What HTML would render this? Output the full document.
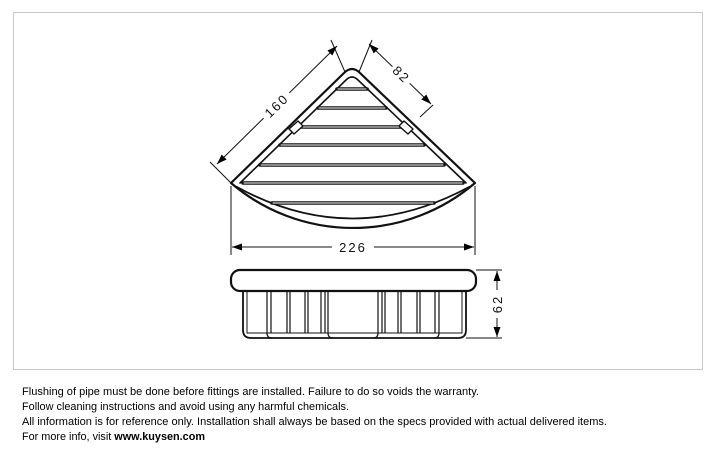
<!DOCTYPE html>
<html><head><meta charset="utf-8"><style>
html,body{margin:0;padding:0;background:#fff;}
svg{display:block}
</style></head><body>
<svg width="717" height="450" viewBox="0 0 717 450" xmlns="http://www.w3.org/2000/svg">
<defs>
<marker id="ar" viewBox="0 0 10 10" refX="10" refY="5" markerWidth="10" markerHeight="10" markerUnits="userSpaceOnUse" orient="auto-start-reverse"><path d="M0,1.5 L10,5 L0,8.5 z" fill="#000"/></marker>
</defs>
<rect x="13.5" y="12.5" width="689" height="357" fill="none" stroke="#c8c8c8" stroke-width="1"/>
<g fill="none" stroke="#111" stroke-linecap="round" stroke-linejoin="round">
<path d="M231,183 L344,73 Q352,65 360,73 L475,183 A188,188 0 0 1 231,183 Z" stroke-width="2.2"/>
<path d="M240,183 L346,80 Q352,74 358,80 L466,183" stroke-width="1.6"/>
<path d="M237,187 Q352,250 469,187" stroke-width="1.8"/>
<g stroke-width="3.6">
<line x1="337" y1="89" x2="367" y2="89"/>
<line x1="318" y1="108" x2="386" y2="108"/>
<line x1="298" y1="127" x2="406" y2="127"/>
<line x1="280" y1="145" x2="424" y2="145"/>
<line x1="260" y1="165" x2="444" y2="165"/>
<line x1="243" y1="183" x2="463" y2="183"/>
<line x1="272" y1="203" x2="434" y2="203"/>
</g>
<g stroke="#fff" stroke-width="0.9">
<line x1="338" y1="89" x2="366" y2="89"/>
<line x1="319" y1="108" x2="385" y2="108"/>
<line x1="299" y1="127" x2="405" y2="127"/>
<line x1="281" y1="145" x2="423" y2="145"/>
<line x1="261" y1="165" x2="443" y2="165"/>
<line x1="244" y1="183" x2="462" y2="183"/>
<line x1="273" y1="203" x2="433" y2="203"/>
</g>
<path d="M289,129 L298,121 L303,126 L294,134 Z" stroke-width="1.4" fill="#fff"/>
<path d="M404,121 L413,129 L408,134 L399,126 Z" stroke-width="1.4" fill="#fff"/>
</g>
<g stroke="#111" stroke-width="1" fill="none">
<line x1="231" y1="183" x2="210" y2="162"/>
<line x1="345" y1="72" x2="331" y2="40"/>
<line x1="359" y1="72" x2="372" y2="40"/>
<line x1="420" y1="117" x2="433" y2="105"/>
<line x1="217" y1="164" x2="337" y2="46" marker-start="url(#ar)" marker-end="url(#ar)"/>
<line x1="369" y1="44" x2="431" y2="104" marker-start="url(#ar)" marker-end="url(#ar)"/>
<line x1="231" y1="186" x2="231" y2="255"/>
<line x1="475" y1="186" x2="475" y2="255"/>
<line x1="232" y1="247" x2="474" y2="247" marker-start="url(#ar)" marker-end="url(#ar)"/>
<line x1="476" y1="270" x2="502" y2="270"/>
<line x1="466" y1="338" x2="502" y2="338"/>
<line x1="497" y1="271" x2="497" y2="337" marker-start="url(#ar)" marker-end="url(#ar)"/>
</g>
<g font-family="Liberation Sans, sans-serif" font-size="13" fill="#111">
<rect x="332" y="239" width="42" height="16" fill="#fff"/>
<text x="353" y="252" text-anchor="middle" letter-spacing="2">226</text>
<rect x="489" y="290" width="16" height="28" fill="#fff"/>
<text transform="translate(502,304) rotate(-90)" text-anchor="middle" letter-spacing="2">62</text>
<g transform="translate(277,106) rotate(-44)"><rect x="-18" y="-9" width="36" height="16" fill="#fff"/><text x="0" y="4" text-anchor="middle" letter-spacing="2">160</text></g>
<g transform="translate(401,75) rotate(44)"><rect x="-12" y="-9" width="24" height="16" fill="#fff"/><text x="0" y="4" text-anchor="middle" letter-spacing="2">82</text></g>
</g>
<g fill="none" stroke="#111" stroke-linejoin="round">
<path d="M243,291 L243,330 Q243,338 251,338 L458,338 Q466,338 466,330 L466,291" stroke-width="1.8"/>
<path d="M247,291 L247,333 L462,333 L462,291" stroke-width="1"/>
<g stroke-width="1.2">
<path d="M267,291 V333 M271,291 V333 M287,291 V333 M290,291 V333 M305,291 V333 M308,291 V333 M321,291 V333 M325,291 V333 M328,291 V333"/>
<path d="M378,291 V333 M382,291 V333 M385,291 V333 M398,291 V333 M401,291 V333 M417,291 V333 M420,291 V333 M435,291 V333 M439,291 V333"/>
<path d="M267,333 Q267,338 272,338 M328,333 Q328,338 333,338 M378,333 Q378,338 373,338 M439,333 Q439,338 434,338"/>
</g>
<rect x="231" y="270" width="245" height="21" rx="9" ry="9" stroke-width="2.2" fill="#fff"/>
</g>
<g font-family="Liberation Sans, sans-serif" font-size="11" fill="#000">
<text x="22" y="395" textLength="457" lengthAdjust="spacingAndGlyphs">Flushing of pipe must be done before fittings are installed. Failure to do so voids the warranty.</text>
<text x="22" y="410" textLength="327" lengthAdjust="spacingAndGlyphs">Follow cleaning instructions and avoid using any harmful chemicals.</text>
<text x="22" y="425" textLength="585" lengthAdjust="spacingAndGlyphs">All information is for reference only. Installation shall always be based on the specs provided with actual delivered items.</text>
<text x="22" y="440" textLength="183" lengthAdjust="spacingAndGlyphs">For more info, visit <tspan font-weight="bold">www.kuysen.com</tspan></text>
</g>
</svg>
</body></html>
